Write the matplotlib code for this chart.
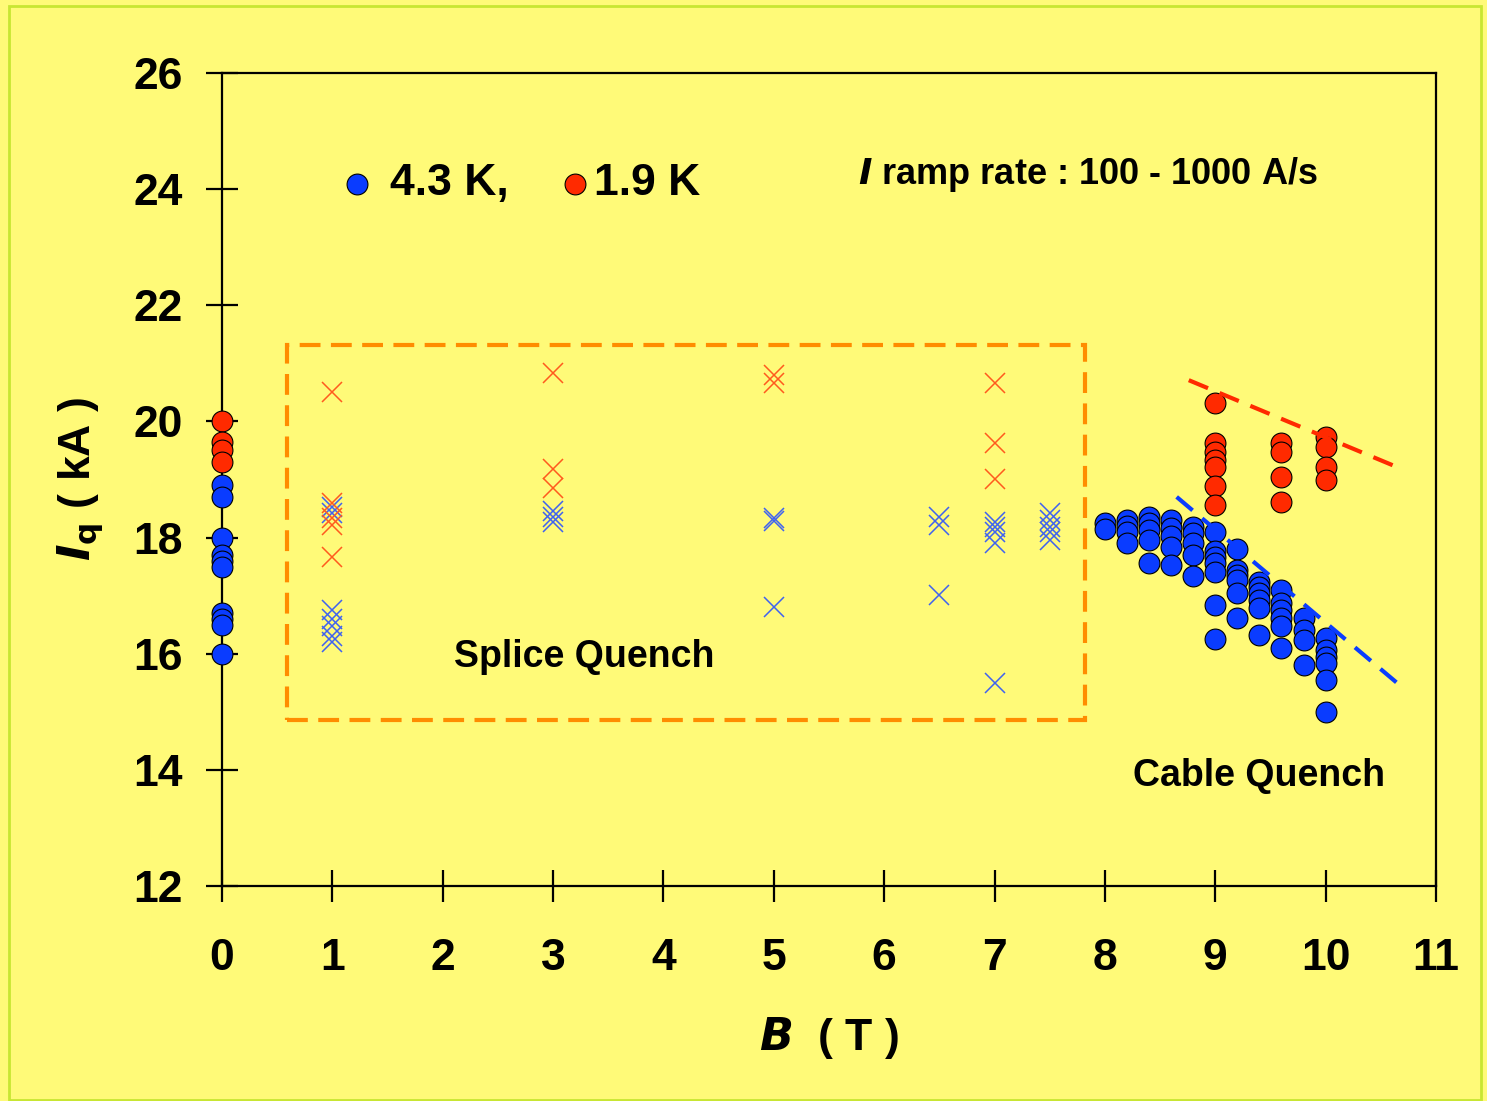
import numpy as np
import matplotlib.pyplot as plt
from matplotlib.patches import Rectangle

plt.rcParams['font.family'] = ['Liberation Sans', 'DejaVu Sans']
plt.rcParams['font.weight'] = 'bold'

BG = '#FFFA78'
BLUE = '#0A3CFF'
RED = '#FF2A00'
XBLUE = '#3F62F0'
XRED = '#FF5A1E'

# B = 0 T, filled circles
b0_blue = [18.9, 18.7, 18.0, 17.7, 17.6, 17.5, 16.7, 16.6, 16.5, 16.0]
b0_red = [20.0, 19.65, 19.5, 19.3]

# splice quench crosses (B, Iq)
sx_blue_b = [1, 1, 1, 1, 1, 1, 1, 3, 3, 3, 5, 5, 5,
             6.5, 6.5, 6.5, 7, 7, 7, 7, 7, 7.5, 7.5, 7.5, 7.5, 7.5]
sx_blue_i = [18.53, 18.42, 16.75, 16.6, 16.47, 16.3, 16.21, 18.45, 18.36, 18.27, 18.33, 18.29, 16.81,
             18.36, 18.22, 17.01, 18.27, 18.19, 18.1, 17.9, 15.49, 18.42, 18.3, 18.19, 18.1, 17.96]
sx_red_b = [1, 1, 1, 1, 1, 3, 3, 3, 5, 5, 7, 7, 7]
sx_red_i = [20.5, 18.59, 18.34, 18.22, 17.67, 20.83, 19.18, 18.85, 20.8, 20.66, 20.66, 19.63, 19.0]

# cable quench, 4.3 K
cq_blue = {
    8.0: [18.25, 18.15],
    8.2: [18.3, 18.2, 18.1, 17.9],
    8.4: [18.36, 18.25, 18.13, 17.96, 17.57],
    8.6: [18.3, 18.16, 18.02, 17.84, 17.53],
    8.8: [18.19, 18.07, 17.9, 17.7, 17.33],
    9.0: [18.09, 17.76, 17.67, 17.56, 17.41, 16.84, 16.25],
    9.2: [17.81, 17.44, 17.36, 17.27, 17.04, 16.61],
    9.4: [17.24, 17.15, 17.04, 16.92, 16.78, 16.32],
    9.6: [17.1, 16.87, 16.75, 16.61, 16.47, 16.09],
    9.8: [16.61, 16.41, 16.24, 15.81],
    10.0: [16.27, 16.07, 15.95, 15.84, 15.55, 15.0],
}
# cable quench, 1.9 K
cq_red = {
    9.0: [20.31, 19.62, 19.48, 19.34, 19.22, 18.88, 18.56],
    9.6: [19.62, 19.48, 19.04, 18.62],
    10.0: [19.74, 19.56, 19.22, 18.99],
}

# trend lines
red_line_b = [8.76, 10.69]
red_line_i = [20.71, 19.18]
blue_line_b = [8.65, 10.67]
blue_line_i = [18.70, 15.46]

# splice region box
box_b = [0.59, 7.82]
box_i = [14.86, 21.32]

fig = plt.figure(figsize=(14.87, 11.01), dpi=100, facecolor=BG)
ax = fig.add_axes([0.1493, 0.1953, 0.8164, 0.7384])
ax.set_facecolor(BG)

fig.patches.append(Rectangle((0.006, 0.001), 0.99, 0.994, transform=fig.transFigure,
                             fill=False, edgecolor='#C8E632', linewidth=2))

mk = dict(marker='o', markersize=15, markeredgecolor='black', markeredgewidth=0.8, linestyle='none')
xk = dict(marker='x', markersize=14, markeredgewidth=1.1, linestyle='none')

ax.plot(sx_blue_b, sx_blue_i, color=XBLUE, **xk)
ax.plot(sx_red_b, sx_red_i, color=XRED, **xk)

ax.plot(np.zeros(len(b0_blue)), b0_blue, color=BLUE, clip_on=False, zorder=5, **mk)
ax.plot(np.zeros(len(b0_red)), b0_red, color=RED, clip_on=False, zorder=5, **mk)

for b, vals in cq_blue.items():
    ax.plot([b] * len(vals), vals, color=BLUE, **mk)
for b, vals in cq_red.items():
    ax.plot([b] * len(vals), vals, color=RED, **mk)

ax.plot(red_line_b, red_line_i, color=RED, linestyle=(0, (5, 3)), linewidth=3)
ax.plot(blue_line_b, blue_line_i, color=BLUE, linestyle=(0, (5, 3)), linewidth=3)

ax.add_patch(Rectangle((box_b[0], box_i[0]), box_b[1] - box_b[0], box_i[1] - box_i[0],
                       fill=False, edgecolor='#FF8C00', linewidth=3, linestyle=(0, (5, 2.5))))

# legend-like annotation
ax.plot([1.22], [24.09], color=BLUE, **mk)
ax.plot([3.2], [24.09], color=RED, **mk)
ax.text(1.52, 24.1, '4.3 K,', fontsize=32, fontweight='bold', va='center')
ax.text(3.37, 24.1, '1.9 K', fontsize=32, fontweight='bold', va='center')
ax.text(5.76, 24.25, r'$\bfit{I}$ ramp rate : 100 - 1000 A/s', fontsize=26, va='center')
ax.text(3.28, 15.94, 'Splice Quench', fontsize=27, ha='center', va='center')
ax.text(9.4, 13.9, 'Cable Quench', fontsize=27, ha='center', va='center')

ax.set_xlim(0, 11)
ax.set_ylim(12, 26)
ax.set_xticks(range(0, 12))
ax.set_yticks(range(12, 27, 2))
ax.tick_params(direction='inout', length=23, width=1.6, labelsize=32)
ax.tick_params(axis='x', pad=26)
ax.tick_params(axis='y', pad=17)
for lab in ax.get_xticklabels() + ax.get_yticklabels():
    lab.set_fontweight('bold')
for s in ax.spines.values():
    s.set_linewidth(1.6)

ax.set_xlabel(r'$\bfit{B}$  ( T )', fontsize=32, fontweight='bold', labelpad=26)
ax.set_ylabel(r'$\bfit{I}_{\mathbf{q}}$ ( kA )', fontsize=32, fontweight='bold', labelpad=20)

fig.savefig('out.png', dpi=100, facecolor=BG)
